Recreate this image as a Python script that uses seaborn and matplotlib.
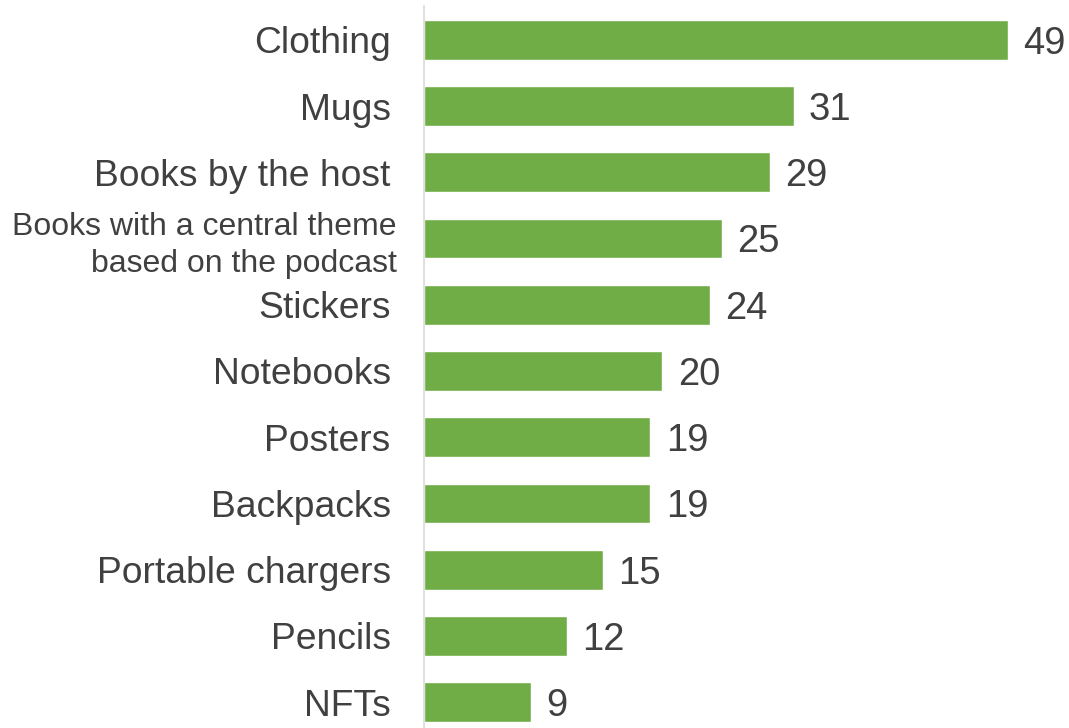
import matplotlib
matplotlib.use("Agg")
import matplotlib.pyplot as plt
import matplotlib.transforms as mtransforms
import seaborn as sns
import pandas as pd

categories = [
    "Clothing",
    "Mugs",
    "Books by the host",
    "Books with a central theme\nbased on the podcast",
    "Stickers",
    "Notebooks",
    "Posters",
    "Backpacks",
    "Portable chargers",
    "Pencils",
    "NFTs",
]
values = [49, 31, 29, 25, 24, 20, 19, 19, 15, 12, 9]

df = pd.DataFrame({"category": categories, "value": values})

sns.set_theme(style="white")
plt.rcParams["font.family"] = ["Liberation Sans", "DejaVu Sans"]

text_color = "#404040"
bar_color = "#70AD47"

fig = plt.figure(figsize=(10.69, 7.28), dpi=100)
ax = fig.add_axes([424 / 1069, 0, 1 - 424 / 1069, 1 - 6 / 728])

sns.barplot(data=df, x="value", y="category", orient="h", color=bar_color,
            width=0.6, ax=ax, saturation=1)

ax.set_xlim(0, 645 / 11.92)
ax.set_ylim(len(categories) - 1 + 0.39, -0.51)

for side in ["top", "right", "bottom"]:
    ax.spines[side].set_visible(False)
ax.spines["left"].set_color("#d9d9d9")
ax.spines["left"].set_linewidth(1.2)

ax.set_xticks([])
ax.set_xlabel("")
ax.set_ylabel("")
ax.tick_params(axis="y", length=0, pad=24, labelsize=26.8, labelcolor=text_color)

labels = ax.get_yticklabels()
two_line = labels[3]
two_line.set_fontsize(23)
two_line.set_linespacing(1.32)
two_line.set_transform(two_line.get_transform() +
                       mtransforms.ScaledTranslation(6 / 100, 0, fig.dpi_scale_trans))

for container in ax.containers:
    texts = ax.bar_label(container, labels=[str(v) for v in values], padding=11,
                         fontsize=27.5, color=text_color)
    for t in texts:
        t.set_va("center_baseline")

fig.savefig("out.png", dpi=100, facecolor="white")
